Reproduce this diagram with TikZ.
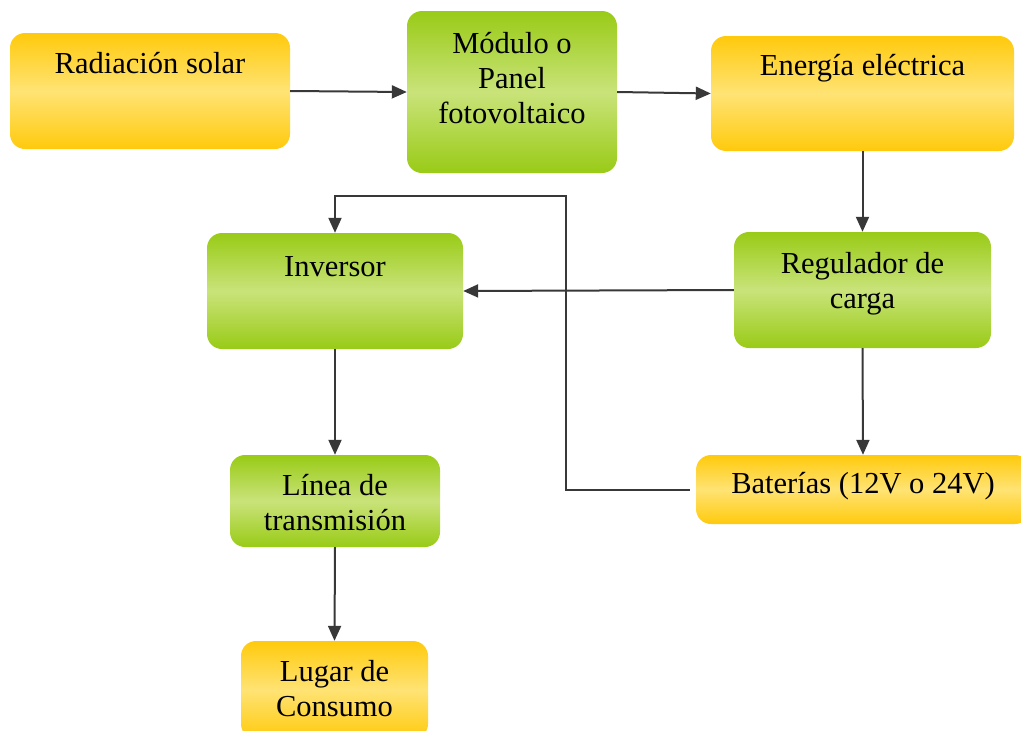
\documentclass[tikz,border=0pt]{standalone}
\usepackage{fontspec}
\setmainfont{Liberation Serif}
\usetikzlibrary{arrows.meta}
\definecolor{ordark}{HTML}{FFCA0C}
\definecolor{orlight}{HTML}{FFE374}
\definecolor{grdark}{HTML}{99CB16}
\definecolor{grlight}{HTML}{C9E37A}
\definecolor{linec}{HTML}{383838}
\newcommand{\liftbox}[2]{\raisebox{#1}[\height][\depth]{\begin{tabular}{@{}c@{}}#2\end{tabular}}}
\tikzset{
  box/.style={rectangle, rounded corners=15pt, inner sep=0pt,
    font=\fontsize{30.5pt}{35pt}\selectfont, text=black},
  orbox/.style={box, top color=ordark, bottom color=ordark, middle color=orlight},
  grbox/.style={box, top color=grdark, bottom color=grdark, middle color=grlight},
  conn/.style={draw=linec, line width=2pt, -{Triangle[length=15pt,width=13pt]}}
}
\begin{document}
\begin{tikzpicture}[x=1pt,y=-1pt]
\useasboundingbox (0,0) rectangle (1021,731);
\begin{scope}
\clip (0,0) rectangle (1021,731);
\node[orbox, minimum width=280pt, minimum height=116pt] (rad) at (150,91) {\liftbox{25pt}{Radiación solar}};
\node[grbox, minimum width=210pt, minimum height=162pt] (mod) at (512,92) {\liftbox{11pt}{Módulo o\\Panel\\fotovoltaico}};
\node[orbox, minimum width=303pt, minimum height=115pt] (ene) at (862.5,93.5) {\liftbox{25.5pt}{Energía eléctrica}};
\node[grbox, minimum width=257pt, minimum height=116pt] (reg) at (862.5,290) {\liftbox{6pt}{Regulador de\\carga}};
\node[grbox, minimum width=256pt, minimum height=116pt] (inv) at (335,291) {\liftbox{22pt}{Inversor}};
\node[orbox, minimum width=334pt, minimum height=69pt] (bat) at (863,489.5) {\liftbox{3pt}{Baterías (12V o 24V)}};
\node[grbox, minimum width=210pt, minimum height=92pt] (lin) at (335,501) {\liftbox{-4.5pt}{Línea de\\transmisión}};
\node[orbox, minimum width=187pt, minimum height=98pt] (lug) at (334.5,690) {\liftbox{-2pt}{Lugar de\\Consumo}};
\end{scope}
\coordinate (c1) at (566,196);
\draw[conn] (rad.east) -- (mod.west);
\draw[conn] (mod.east) -- (ene.west);
\draw[conn] (ene.south) -- (reg.north);
\draw[conn] (reg.west) -- (inv.east);
\draw[conn] (reg.south) -- (bat.north);
\draw[conn] ([xshift=-6pt]bat.west) -| (c1) -| (inv.north);
\draw[conn] (inv.south) -- (lin.north);
\draw[conn] (lin.south) -- (lug.north);
\end{tikzpicture}
\end{document}
